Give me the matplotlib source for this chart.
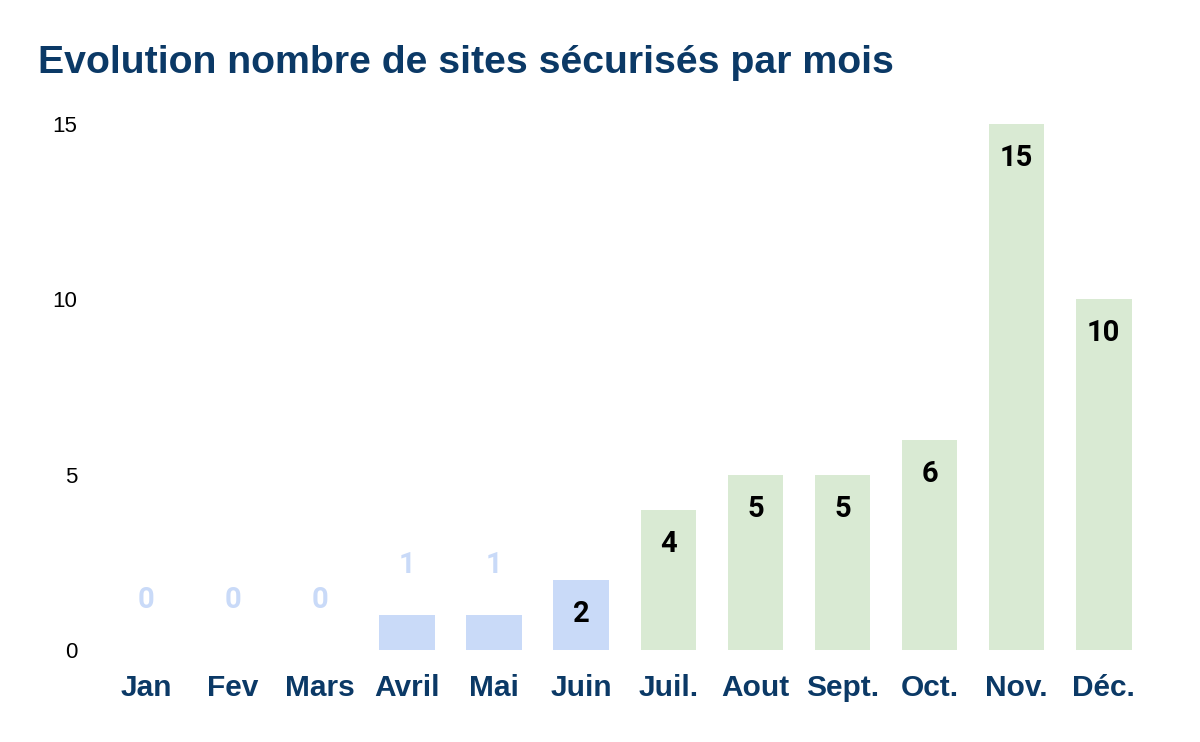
import matplotlib.pyplot as plt
from matplotlib.transforms import offset_copy

# ==========================================
# DATA
# ==========================================

months = ["Jan", "Fev", "Mars", "Avril", "Mai", "Juin",
          "Juil.", "Aout", "Sept.", "Oct.", "Nov.", "Déc."]
sites = [0, 0, 0, 1, 1, 2, 4, 5, 5, 6, 15, 10]
y_ticks = [0, 5, 10, 15]

BLUE = "#c9daf8"
GREEN = "#d9ead3"
NAVY = "#0b3966"

# first half of the year in blue, second half in green
colors = [BLUE] * 6 + [GREEN] * 6

# ==========================================
# PLOT
# ==========================================

fig = plt.figure(figsize=(12, 7.42), dpi=100)
ax = fig.add_axes([0.0854, 0.124, 0.8706, 0.709])

x = list(range(len(months)))
bars = ax.bar(x, sites, width=0.64, color=colors, linewidth=0)

ax.set_xlim(-0.5, len(months) - 0.5)
ax.set_ylim(0, 15)

for xi, v, c in zip(x, sites, colors):
    if v >= 2:
        tr = offset_copy(ax.transData, fig=fig, y=-34, units="dots")
        ax.text(xi, v, str(v), transform=tr, ha="center", va="center",
                fontsize=21, fontweight="bold", family="Roboto", color="black")
    else:
        tr = offset_copy(ax.transData, fig=fig, y=50, units="dots")
        ax.text(xi, v, str(v), transform=tr, ha="center", va="center",
                fontsize=21, fontweight="bold", family="Roboto", color=c)

ax.set_xticks(x)
ax.set_xticklabels(months, fontsize=21.5, fontweight="bold",
                   family="Liberation Sans", color=NAVY)
ax.set_yticks(y_ticks)
ax.set_yticklabels([str(t) for t in y_ticks], fontsize=16,
                   family="Liberation Sans", color="black")
ax.tick_params(axis="x", length=0, pad=17)
ax.tick_params(axis="y", length=0, pad=18)

for s in ax.spines.values():
    s.set_visible(False)

fig.text(38 / 1200, 1 - 63 / 742, "Evolution nombre de sites sécurisés par mois",
         fontsize=28.3, fontweight="bold", family="Liberation Sans",
         color=NAVY, ha="left", va="center")

fig.savefig("out.png", dpi=100, facecolor="white")
